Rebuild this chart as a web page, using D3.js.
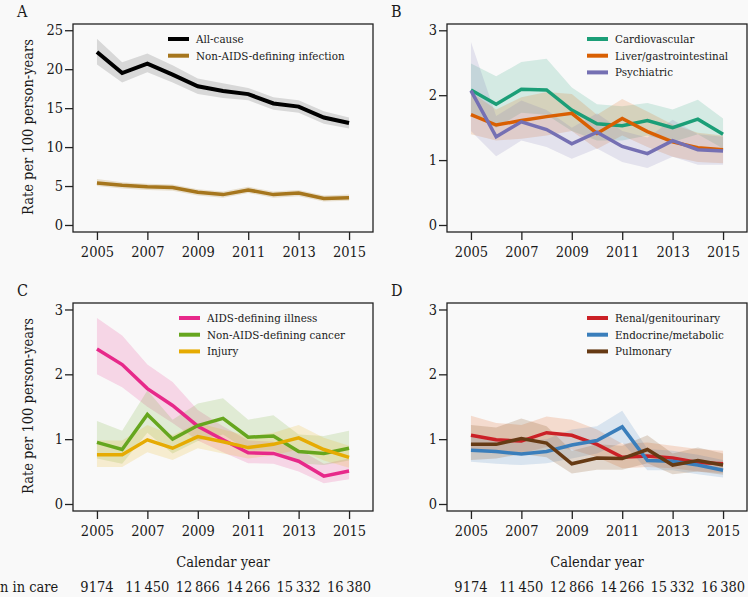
<!DOCTYPE html>
<html>
<head>
<meta charset="utf-8">
<script src="https://cdn.jsdelivr.net/npm/d3@7"></script>
<style>
  html, body { margin: 0; padding: 0; background: #f9f9f9; }
  svg { display: block; }
  svg text { font-family: "DejaVu Serif Condensed", "DejaVu Serif", serif !important; font-stretch: condensed; }
</style>
</head>
<body>
<svg id="chart" width="748" height="597"></svg>
<script>
// ---------------- DATA ----------------
const years = [2005, 2006, 2007, 2008, 2009, 2010, 2011, 2012, 2013, 2014, 2015];
const xTickYears = [2005, 2007, 2009, 2011, 2013, 2015];
const nInCare = ["9174", "11\u2009450", "12\u2009866", "14\u2009266", "15\u2009332", "16\u2009380"];

const yTicksA = [0, 5, 10, 15, 20, 25];
const yTicksBCD = [0, 1, 2, 3];

// Panel A
const allCause      = [22.2, 19.5, 20.7, 19.3, 17.8, 17.2, 16.8, 15.6, 15.2, 13.8, 13.1];
const allCauseLo    = [20.6, 18.3, 19.6, 18.3, 16.8, 16.3, 16.0, 14.8, 14.4, 13.0, 12.4];
const allCauseHi    = [23.9, 20.9, 22.0, 20.5, 18.8, 18.2, 17.6, 16.4, 16.0, 14.6, 13.8];
const infection     = [5.4, 5.1, 4.9, 4.8, 4.2, 3.9, 4.5, 3.9, 4.1, 3.4, 3.5];
const infectionLo   = [5.0, 4.7, 4.5, 4.4, 3.8, 3.5, 4.1, 3.5, 3.7, 3.0, 3.1];
const infectionHi   = [5.9, 5.5, 5.3, 5.2, 4.6, 4.3, 4.9, 4.3, 4.5, 3.8, 3.9];

// Panel B
const cardio        = [2.08, 1.86, 2.09, 2.08, 1.77, 1.56, 1.53, 1.61, 1.50, 1.63, 1.40];
const cardioLo      = [1.70, 1.50, 1.73, 1.70, 1.45, 1.30, 1.30, 1.38, 1.28, 1.40, 1.18];
const cardioHi      = [2.49, 2.29, 2.51, 2.56, 2.12, 1.86, 1.83, 1.88, 1.78, 1.93, 1.64];
const liver         = [1.70, 1.54, 1.61, 1.67, 1.72, 1.41, 1.64, 1.44, 1.28, 1.19, 1.16];
const liverLo       = [1.40, 1.30, 1.33, 1.38, 1.45, 1.17, 1.38, 1.20, 1.05, 0.97, 0.95];
const liverHi       = [2.05, 1.78, 1.97, 2.05, 2.02, 1.70, 1.94, 1.75, 1.55, 1.42, 1.38];
const psych         = [2.07, 1.36, 1.59, 1.47, 1.25, 1.43, 1.21, 1.10, 1.30, 1.16, 1.14];
const psychLo       = [1.45, 1.06, 1.30, 1.20, 1.02, 1.18, 0.97, 0.88, 1.05, 0.93, 0.93];
const psychHi       = [2.82, 1.68, 1.92, 1.77, 1.50, 1.72, 1.45, 1.35, 1.62, 1.40, 1.36];

// Panel C
const aids          = [2.39, 2.15, 1.78, 1.52, 1.20, 0.99, 0.79, 0.78, 0.66, 0.43, 0.51];
const aidsLo        = [2.00, 1.80, 1.50, 1.25, 0.98, 0.80, 0.63, 0.62, 0.50, 0.32, 0.38];
const aidsHi        = [2.87, 2.60, 2.15, 1.88, 1.45, 1.20, 0.98, 0.96, 0.85, 0.62, 0.70];
const cancer        = [0.95, 0.84, 1.38, 1.00, 1.21, 1.32, 1.03, 1.05, 0.81, 0.78, 0.86];
const cancerLo      = [0.70, 0.62, 1.10, 0.78, 0.97, 1.07, 0.82, 0.83, 0.63, 0.60, 0.67];
const cancerHi      = [1.28, 1.13, 1.75, 1.30, 1.55, 1.63, 1.30, 1.37, 1.07, 1.05, 1.13];
const injury        = [0.76, 0.76, 0.99, 0.86, 1.04, 0.96, 0.87, 0.92, 1.02, 0.84, 0.72];
const injuryLo      = [0.57, 0.57, 0.80, 0.68, 0.86, 0.78, 0.70, 0.75, 0.84, 0.67, 0.56];
const injuryHi      = [0.98, 0.98, 1.22, 1.06, 1.25, 1.15, 1.05, 1.10, 1.22, 1.02, 0.90];

// Panel D
const renal         = [1.06, 0.99, 0.97, 1.10, 1.06, 0.92, 0.72, 0.74, 0.71, 0.64, 0.62];
const renalLo       = [0.82, 0.78, 0.78, 0.88, 0.84, 0.72, 0.55, 0.57, 0.55, 0.50, 0.48];
const renalHi       = [1.36, 1.25, 1.22, 1.35, 1.30, 1.15, 0.93, 0.95, 0.90, 0.85, 0.82];
const endo          = [0.83, 0.81, 0.77, 0.81, 0.91, 0.98, 1.19, 0.67, 0.66, 0.60, 0.52];
const endoLo        = [0.65, 0.62, 0.60, 0.63, 0.70, 0.78, 0.95, 0.52, 0.52, 0.46, 0.41];
const endoHi        = [1.05, 1.00, 0.97, 1.00, 1.15, 1.20, 1.44, 0.85, 0.82, 0.76, 0.68];
const pulm          = [0.92, 0.92, 1.01, 0.94, 0.62, 0.71, 0.70, 0.84, 0.60, 0.67, 0.60];
const pulmLo        = [0.68, 0.70, 0.77, 0.72, 0.47, 0.53, 0.53, 0.63, 0.46, 0.50, 0.45];
const pulmHi        = [1.22, 1.18, 1.32, 1.20, 0.82, 0.92, 0.90, 1.06, 0.78, 0.87, 0.78];

// ---------------- PANELS ----------------
const panels = [
  { letter: "A", left: 73, top: 24, yDomain: [-0.9, 25.8], yTicks: yTicksA, ylabel: true, bottomLabels: false, legendX: 95,
    series: [
      { name: "All-cause", v: allCause, lo: allCauseLo, hi: allCauseHi, color: "#000000", band: "#000000", bandOp: 0.13, w: 4 },
      { name: "Non-AIDS-defining infection", v: infection, lo: infectionLo, hi: infectionHi, color: "#a6761d", band: "#a6761d", bandOp: 0.2, w: 3.5 }
    ] },
  { letter: "B", left: 447, top: 24, yDomain: [-0.108, 3.097], yTicks: yTicksBCD, ylabel: false, bottomLabels: false, legendX: 140,
    series: [
      { name: "Cardiovascular", v: cardio, lo: cardioLo, hi: cardioHi, color: "#1b9e77", band: "#1b9e77", bandOp: 0.17, w: 3.5 },
      { name: "Liver/gastrointestinal", v: liver, lo: liverLo, hi: liverHi, color: "#d95f02", band: "#d95f02", bandOp: 0.17, w: 3.5 },
      { name: "Psychiatric", v: psych, lo: psychLo, hi: psychHi, color: "#7570b3", band: "#7570b3", bandOp: 0.17, w: 3.5 }
    ] },
  { letter: "C", left: 73, top: 303, yDomain: [-0.108, 3.1], yTicks: yTicksBCD, ylabel: true, bottomLabels: true, legendX: 106,
    series: [
      { name: "AIDS-defining illness", v: aids, lo: aidsLo, hi: aidsHi, color: "#e7298a", band: "#e7298a", bandOp: 0.17, w: 3.5 },
      { name: "Non-AIDS-defining cancer", v: cancer, lo: cancerLo, hi: cancerHi, color: "#66a61e", band: "#66a61e", bandOp: 0.17, w: 3.5 },
      { name: "Injury", v: injury, lo: injuryLo, hi: injuryHi, color: "#e6ab02", band: "#e6ab02", bandOp: 0.17, w: 3.5 }
    ] },
  { letter: "D", left: 447, top: 303, yDomain: [-0.108, 3.1], yTicks: yTicksBCD, ylabel: false, bottomLabels: true, legendX: 140,
    series: [
      { name: "Renal/genitourinary", v: renal, lo: renalLo, hi: renalHi, color: "#cb2026", band: "#e8844f", bandOp: 0.25, w: 3.5 },
      { name: "Endocrine/metabolic", v: endo, lo: endoLo, hi: endoHi, color: "#3a7ebb", band: "#3a7ebb", bandOp: 0.17, w: 3.5 },
      { name: "Pulmonary", v: pulm, lo: pulmLo, hi: pulmHi, color: "#663a14", band: "#8c5a2e", bandOp: 0.22, w: 3.5 }
    ] }
];

const W = 300, H = 208;
const svg = d3.select("#chart");
const textColor = "#1a1a1a";
const fsTick = 14.5, fsLabel = 14.5, fsLegend = 11.5;

panels.forEach(p => {
  const g = svg.append("g").attr("transform", `translate(${p.left},${p.top})`);
  const x = d3.scaleLinear().domain([2004.05, 2015.95]).range([0, W]);
  const y = d3.scaleLinear().domain(p.yDomain).range([H, 0]);

  p.series.forEach(s => {
    const data = years.map((yr, i) => ({ yr, v: s.v[i], lo: s.lo[i], hi: s.hi[i] }));
    g.append("path")
      .datum(data)
      .attr("fill", s.band)
      .attr("fill-opacity", s.bandOp)
      .attr("d", d3.area().x(d => x(d.yr)).y0(d => y(d.lo)).y1(d => y(d.hi)));
  });
  p.series.forEach(s => {
    const data = years.map((yr, i) => ({ yr, v: s.v[i] }));
    g.append("path")
      .datum(data)
      .attr("fill", "none")
      .attr("stroke", s.color)
      .attr("stroke-width", s.w)
      .attr("d", d3.line().x(d => x(d.yr)).y(d => y(d.v)));
  });

  g.append("rect").attr("x", 0).attr("y", 0).attr("width", W).attr("height", H)
    .attr("fill", "none").attr("stroke", "#222").attr("stroke-width", 1.3);

  const ya = g.append("g").call(d3.axisLeft(y).tickValues(p.yTicks).tickSize(8).tickPadding(2).tickFormat(d3.format("d")));
  ya.select(".domain").remove();
  ya.selectAll("line").attr("stroke", "#222").attr("stroke-width", 1.3);
  ya.selectAll("text").attr("font-size", fsTick).attr("fill", textColor);

  const xa = g.append("g").attr("transform", `translate(0,${H})`)
    .call(d3.axisBottom(x).tickValues(xTickYears).tickSize(8).tickPadding(7).tickFormat(d3.format("d")));
  xa.select(".domain").remove();
  xa.selectAll("line").attr("stroke", "#222").attr("stroke-width", 1.3);
  xa.selectAll("text").attr("font-size", fsTick).attr("fill", textColor);

  svg.append("text").attr("x", p.left - 56).attr("y", p.top - 7)
    .attr("font-size", 16).attr("fill", textColor).text(p.letter);

  if (p.ylabel) {
    svg.append("text")
      .attr("transform", `translate(${p.left - 40},${p.top + H / 2 - 1}) rotate(-90)`)
      .attr("text-anchor", "middle").attr("font-size", fsLabel).attr("fill", textColor)
      .text("Rate per 100 person-years");
  }

  const lg = g.append("g");
  p.series.forEach((s, i) => {
    const cy = 15 + i * 16.7;
    lg.append("line").attr("x1", p.legendX).attr("x2", p.legendX + 21)
      .attr("y1", cy).attr("y2", cy).attr("stroke", s.color).attr("stroke-width", 4);
    lg.append("text").attr("x", p.legendX + 28).attr("y", cy + 4)
      .attr("font-size", fsLegend).attr("fill", textColor).text(s.name);
  });

  if (p.bottomLabels) {
    g.append("text").attr("x", W / 2).attr("y", H + 56).attr("text-anchor", "middle")
      .attr("font-size", fsLabel).attr("fill", textColor).text("Calendar year");
    g.selectAll("text.n").data(xTickYears).enter().append("text")
      .attr("class", "n")
      .attr("x", d => x(d)).attr("y", H + 81).attr("text-anchor", "middle")
      .attr("font-size", fsTick).attr("fill", textColor)
      .text((d, i) => nInCare[i]);
  }
});

svg.append("text").attr("x", 0).attr("y", 592).attr("font-size", fsLabel).attr("fill", textColor).text("n in care");
</script>
</body>
</html>
